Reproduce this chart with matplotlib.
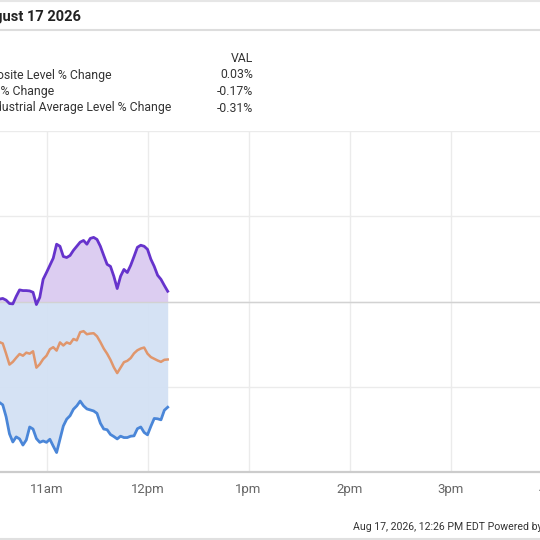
import matplotlib
matplotlib.use("Agg")
import matplotlib.pyplot as plt
import matplotlib.lines as mlines
import numpy as np

plt.rcParams['font.family'] = ['Roboto', 'DejaVu Sans']

## DATA (% change vs previous close, 2-minute steps from 10:32)
minutes = list(range(632, 733, 2))   # minutes after midnight, 10:32 .. 12:12

nasdaq = [0.007, 0.009, 0.004, -0.006, -0.007, 0.015, 0.034, 0.032, 0.032, 0.031,
          0.027, -0.009, 0.012, 0.065, 0.085, 0.106, 0.127, 0.168, 0.162, 0.132,
          0.129, 0.135, 0.150, 0.162, 0.174, 0.179, 0.168, 0.185, 0.188, 0.182,
          0.162, 0.135, 0.109, 0.103, 0.074, 0.038, 0.074, 0.094, 0.085, 0.106,
          0.132, 0.159, 0.165, 0.162, 0.153, 0.124, 0.103, 0.077, 0.065, 0.047, 0.030]

sp500 = [-0.119, -0.123, -0.153, -0.185, -0.177, -0.165, -0.154, -0.159, -0.150, -0.153,
         -0.146, -0.194, -0.184, -0.169, -0.159, -0.140, -0.134, -0.144, -0.120, -0.129,
         -0.120, -0.124, -0.110, -0.114, -0.090, -0.087, -0.096, -0.094, -0.093, -0.102,
         -0.119, -0.138, -0.153, -0.171, -0.193, -0.210, -0.194, -0.178, -0.174, -0.166,
         -0.152, -0.143, -0.138, -0.135, -0.153, -0.163, -0.168, -0.173, -0.177, -0.171, -0.170]

dow = [-0.296, -0.303, -0.338, -0.388, -0.412, -0.397, -0.403, -0.421, -0.406, -0.368,
       -0.374, -0.402, -0.413, -0.409, -0.413, -0.404, -0.424, -0.443, -0.404, -0.365,
       -0.345, -0.335, -0.316, -0.306, -0.292, -0.306, -0.315, -0.318, -0.321, -0.328,
       -0.357, -0.374, -0.376, -0.390, -0.396, -0.403, -0.395, -0.399, -0.399, -0.395,
       -0.394, -0.373, -0.368, -0.384, -0.391, -0.366, -0.343, -0.344, -0.347, -0.319, -0.310]

labels = ['NASDAQ Composite Level % Change',
          'S&P 500 Level % Change',
          'Dow Jones Industrial Average Level % Change']
last_vals = ['0.03%', '-0.17%', '-0.31%']

hour_ticks = [600, 660, 720, 780, 840, 900, 960]
hour_labels = ['10am', '11am', '12pm', '1pm', '2pm', '3pm', '4pm']

## COLOURS
c_purple = '#6633cc'
c_orange = '#e0966c'
c_blue = '#4a86d8'

W = 540.
fig = plt.figure(figsize=(5.4, 5.4), dpi=100)

# axes extend past the left/right edge (reference is a crop)
x_left, x_right = -105., 551.5
y_top, y_bot = 131., 472.
ax = fig.add_axes([x_left / W, 1 - y_bot / W, (x_right - x_left) / W, (y_bot - y_top) / W])
ax.set_xlim(570, 960)
ax.set_ylim(-0.5, 0.5)

ax.fill_between(minutes, 0, nasdaq, color='#dccdf1', lw=0)
ax.fill_between(minutes, 0, dow, color='#d3e1f4', lw=0, alpha=0.95)
ax.plot(minutes, sp500, color=c_orange, lw=1.8)
ax.plot(minutes, dow, color=c_blue, lw=2.0)
ax.plot(minutes, nasdaq, color=c_purple, lw=2.0)

ax.set_xticks(hour_ticks)
ax.set_xticklabels(hour_labels)
ax.set_yticks([-0.25, 0, 0.25, 0.5])
ax.set_yticklabels([])
ax.tick_params(axis='both', length=0)
ax.tick_params(axis='x', pad=8, labelsize=9.5, labelcolor='#666666')
ax.grid(True, color='#ebebeb', lw=1)
ax.set_axisbelow(True)
ax.axhline(0, color='#d2d2d2', lw=1, zorder=1.5)
for s in ['top', 'left', 'right']:
    ax.spines[s].set_visible(False)
ax.spines['bottom'].set_color('#cccccc')
ax.spines['bottom'].set_linewidth(1.6)

## HEADER
fig.add_artist(mlines.Line2D([0, 1], [1 - 1 / W, 1 - 1 / W], color='#e6e6e6', lw=1.5))
fig.add_artist(mlines.Line2D([0, 1], [1 - 29.5 / W, 1 - 29.5 / W], color='#dddddd', lw=1.5))
fig.text(81 / W, 1 - 17 / W, 'August 17 2026', ha='right', va='center',
         fontsize=10.5, fontweight='bold', color='#222222')

fig.text(253 / W, 1 - 58 / W, 'VAL', ha='right', va='center', fontsize=8.8, color='#333333')
label_ends = [112, 54, 171]
row_y = [75, 91.5, 108]
for lab, end, yy, val in zip(labels, label_ends, row_y, last_vals):
    fig.text(end / W, 1 - yy / W, lab, ha='right', va='center', fontsize=8.8, color='#333333')
    fig.text(253 / W, 1 - yy / W, val, ha='right', va='center', fontsize=8.8, color='#333333')

## FOOTER
fig.text(353 / W, 1 - 527 / W, 'Aug 17, 2026, 12:26 PM EDT Powered by YCharts',
         ha='left', va='center', fontsize=7.6, color='#333333')
fig.add_artist(mlines.Line2D([0, 1], [1 - 538.5 / W, 1 - 538.5 / W], color='#e0e0e0', lw=1.5))

fig.savefig('out.png', dpi=100)
